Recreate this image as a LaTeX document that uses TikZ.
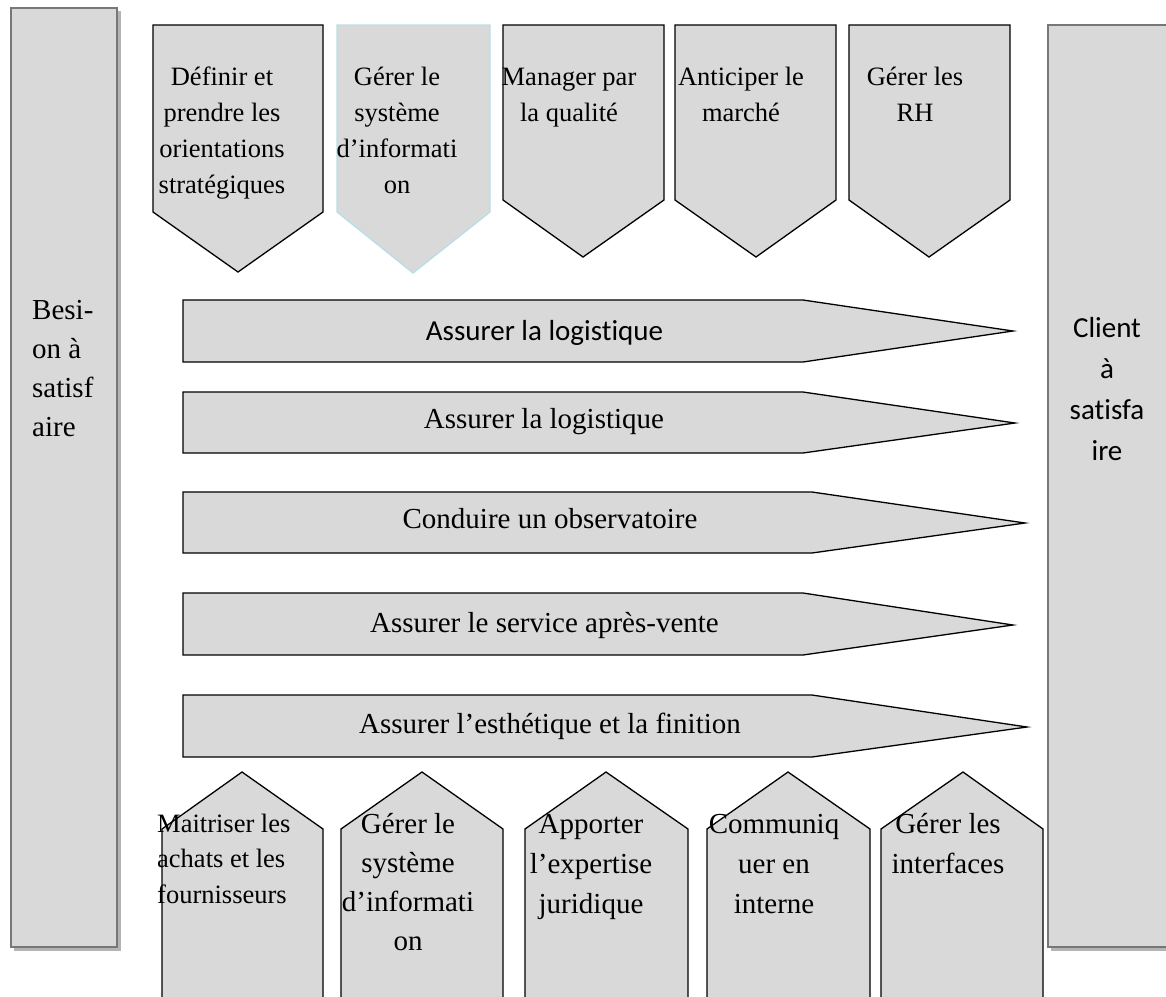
\documentclass[tikz,border=0pt]{standalone}
\usepackage{fontspec}
\setmainfont{Liberation Serif}
\newfontfamily\calfont[Ligatures=NoCommon]{Carlito}
% stacked lines with a fixed baseline distance; the box baseline is the first line
\newcommand\cstack[2]{\vtop{\baselineskip=#1\relax\lineskiplimit=-100pt\halign{\hfil##\hfil\cr#2\crcr}}}
\newcommand\lstack[2]{\vtop{\baselineskip=#1\relax\lineskiplimit=-100pt\halign{##\hfil\cr#2\crcr}}}
\definecolor{boxgray}{HTML}{D9D9D9}
\definecolor{bargray}{HTML}{777777}
\definecolor{shadowgray}{HTML}{B4B4B4}
\definecolor{paleblue}{HTML}{B7DEE8}
\tikzset{
  proc/.style={fill=boxgray, draw=black, line width=1.3pt, line join=miter},
  bar/.style={fill=boxgray, draw=bargray, line width=2.5pt},
  barshadow/.style={fill=shadowgray, draw=none},
  txts/.style={font=\fontsize{26.5}{36}\selectfont, inner sep=0pt, anchor=base},
  txtb/.style={font=\fontsize{29}{40}\selectfont, inner sep=0pt, anchor=base},
  txtc/.style={font=\calfont\fontsize{29}{41}\selectfont, inner sep=0pt, anchor=base},
}
\begin{document}
\begin{tikzpicture}[x=1pt,y=-1pt]
\useasboundingbox (0,0) rectangle (1166,996);
\clip (0,0) rectangle (1166,996);

% side bars with their shadows
\fill[barshadow] (14,11) rectangle (121,951);
\path[bar] (11,8) rectangle (117,947);
\fill[barshadow] (1051,28) rectangle (1175,951);
\path[bar] (1048,25) rectangle (1172,947);

% support processes at the top
\path[proc] (153,25) -- (323,25) -- (323,212) -- (238,272) -- (153,212) -- cycle;
\path[proc, draw=paleblue] (337,25) -- (490,25) -- (490,212) -- (413,273) -- (337,212) -- cycle;
\path[proc] (503,25) -- (664,25) -- (664,200) -- (583,257) -- (503,200) -- cycle;
\path[proc] (675,25) -- (836,25) -- (836,200) -- (756,257) -- (675,200) -- cycle;
\path[proc] (849,25) -- (1010,25) -- (1010,200) -- (929,257) -- (849,200) -- cycle;

% core processes
\path[proc] (183,300) -- (803,300) -- (1013,331) -- (803,362) -- (183,362) -- cycle;
\path[proc] (183,392) -- (803,392) -- (1015,423) -- (803,453) -- (183,453) -- cycle;
\path[proc] (183,492) -- (812,492) -- (1025,523) -- (812,553) -- (183,553) -- cycle;
\path[proc] (183,593) -- (803,593) -- (1013,625) -- (803,655) -- (183,655) -- cycle;
\path[proc] (183,695) -- (812,695) -- (1027,727) -- (812,757) -- (183,757) -- cycle;

% support processes at the bottom
\path[proc] (162,1005) -- (162,829) -- (242,772) -- (323,829) -- (323,1005);
\path[proc] (341,1005) -- (341,829) -- (422,772) -- (503,829) -- (503,1005);
\path[proc] (525,1005) -- (525,829) -- (606,772) -- (688,829) -- (688,1005);
\path[proc] (707,1005) -- (707,829) -- (788,772) -- (870,829) -- (870,1005);
\path[proc] (881,1005) -- (881,829) -- (963,772) -- (1043,829) -- (1043,1005);

% labels
\node[txtb, anchor=base west] (besoin) at (32,319) {\lstack{39pt}{Besi-\cr on à\cr satisf\cr aire}};
\node[txtc] (client) at (1107,337) {\cstack{41pt}{Client\cr à\cr satisfa\cr ire}};

\node[txts] (s1) at (222,85) {\cstack{36pt}{Définir et\cr prendre les\cr orientations\cr stratégiques}};
\node[txts] (s2) at (397,85) {\cstack{36pt}{Gérer le\cr système\cr d’informati\cr on}};
\node[txts] (s3) at (569,85) {\cstack{36pt}{Manager par\cr la qualité}};
\node[txts] (s4) at (741,85) {\cstack{36pt}{Anticiper le\cr marché}};
\node[txts] (s5) at (915,85) {\cstack{36pt}{Gérer les\cr RH}};

\node[txtc] (c1) at (544.5,340) {Assurer la logistique};
\node[txtb] (c2) at (544,428) {Assurer la logistique};
\node[txtb] (c3) at (550,528) {Conduire un observatoire};
\node[txtb] (c4) at (544.5,632) {Assurer le service après-vente};
\node[txtb] (c5) at (550,733) {Assurer l’esthétique et la finition};

\node[txts, anchor=base west] (b1) at (157,832) {\lstack{35.5pt}{Maitriser les\cr achats et les\cr fournisseurs}};
\node[txtb] (b2) at (408,833) {\cstack{39pt}{Gérer le\cr système\cr d’informati\cr on}};
\node[txtb] (b3) at (591,833) {\cstack{40pt}{Apporter\cr l’expertise\cr juridique}};
\node[txtb] (b4) at (774,833) {\cstack{40pt}{Communiq\cr uer en\cr interne}};
\node[txtb] (b5) at (948,833) {\cstack{40pt}{Gérer les\cr interfaces}};
\end{tikzpicture}
\end{document}
